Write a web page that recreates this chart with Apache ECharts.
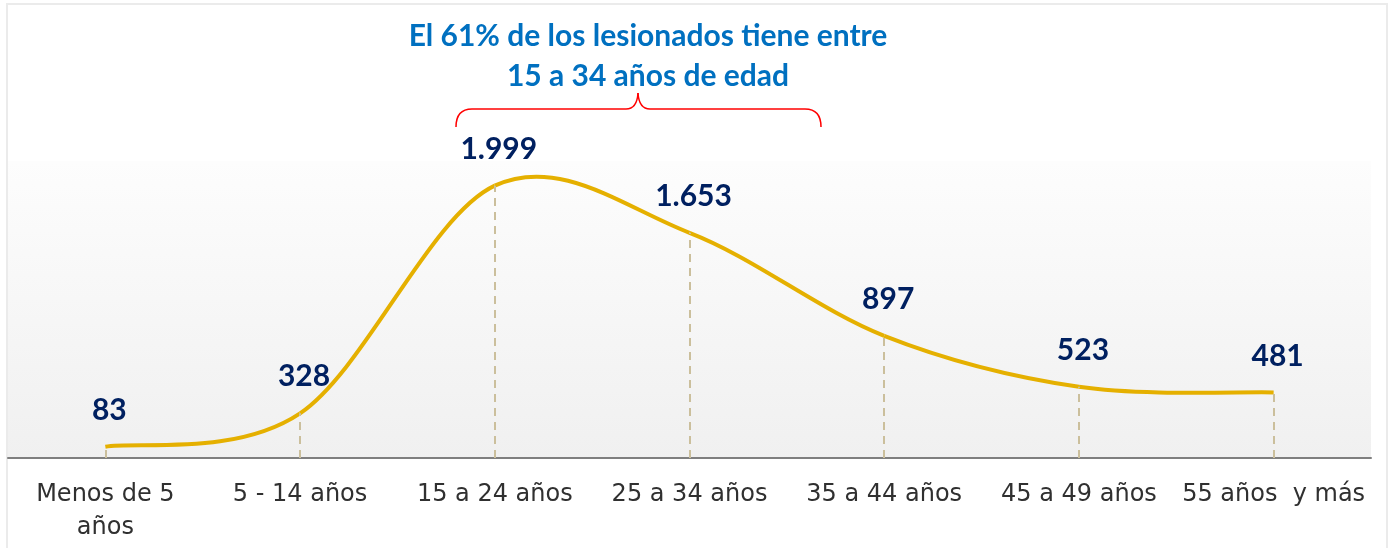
<!DOCTYPE html>
<html>
<head>
<meta charset="utf-8">
<script src="https://cdn.jsdelivr.net/npm/echarts@6/dist/echarts.min.js"></script>
<style>
html,body{margin:0;padding:0;background:#fff;}
#chart{width:1393px;height:548px;}
</style>
</head>
<body>
<div id="chart"></div>
<script>
const categories = ['Menos de 5\naños', '5 - 14 años', '15 a 24 años', '25 a 34 años', '35 a 44 años', '45 a 49 años', '55 años  y más'];
const injured = [83, 328, 1999, 1653, 897, 523, 481];
const titleLines = ['El 61% de los lesionados tiene entre', '15 a 34 años de edad'];

const chart = echarts.init(document.getElementById('chart'));
const fmt = v => String(v).replace(/\B(?=(\d{3})+(?!\d))/g, '.');
const red = {fill: 'none', stroke: '#ff0000', lineWidth: 1.5};
const gold = '#e5b000';

// Smooth (Catmull-Rom style) curve through the data points, mapped by the axes
function renderCurve(params, api) {
  if (params.dataIndexInside !== 0) return null;
  const pts = injured.map((v, i) => api.coord([i, v]));
  const n = pts.length;
  const children = [];
  for (let i = 0; i < n - 1; i++) {
    const p0 = pts[Math.max(i - 1, 0)], p1 = pts[i], p2 = pts[i + 1], p3 = pts[Math.min(i + 2, n - 1)];
    children.push({
      type: 'bezierCurve',
      shape: {
        x1: p1[0], y1: p1[1],
        cpx1: p1[0] + (p2[0] - p0[0]) / 6, cpy1: p1[1] + (p2[1] - p0[1]) / 6,
        cpx2: p2[0] - (p3[0] - p1[0]) / 6, cpy2: p2[1] - (p3[1] - p1[1]) / 6,
        x2: p2[0], y2: p2[1]
      },
      style: {fill: 'none', stroke: gold, lineWidth: 4}
    });
  }
  return {type: 'group', children: children};
}

chart.setOption({
  animation: false,
  backgroundColor: '#ffffff',
  grid: {
    left: 8, right: 22, top: 161, bottom: 90,
    show: true, borderWidth: 0,
    backgroundColor: {
      type: 'linear', x: 0, y: 0, x2: 0, y2: 1,
      colorStops: [{offset: 0, color: '#fdfdfd'}, {offset: 1, color: '#f0f0f0'}]
    }
  },
  xAxis: {
    type: 'category',
    data: categories,
    boundaryGap: true,
    axisLine: {lineStyle: {color: '#7f7f7f', width: 2}},
    axisTick: {show: false},
    axisLabel: {
      interval: 0, color: '#303030', fontFamily: 'DejaVu Sans', fontSize: 24,
      lineHeight: 33, margin: 20
    }
  },
  yAxis: {
    type: 'value', min: 0, max: 2180,
    show: false, splitLine: {show: false}
  },
  graphic: [
    {type: 'rect', shape: {x: 7, y: 4, width: 1380, height: 560}, style: {fill: 'none', stroke: '#ebebeb', lineWidth: 2}, z: 0, silent: true},
    {type: 'text', x: 648, y: 16, style: {text: titleLines.join('\n'), fill: '#0070c0', font: 'bold 30px Lato', lineHeight: 40, align: 'center', verticalAlign: 'top'}, z: 10},
    {type: 'bezierCurve', shape: {x1: 456, y1: 127, cpx1: 456, cpy1: 109, x2: 472, y2: 109}, style: red, z: 10},
    {type: 'line', shape: {x1: 472, y1: 109, x2: 626, y2: 109}, style: red, z: 10},
    {type: 'bezierCurve', shape: {x1: 626, y1: 109, cpx1: 637, cpy1: 109, x2: 638, y2: 93}, style: red, z: 10},
    {type: 'bezierCurve', shape: {x1: 638, y1: 93, cpx1: 639, cpy1: 109, x2: 650, y2: 109}, style: red, z: 10},
    {type: 'line', shape: {x1: 650, y1: 109, x2: 805, y2: 109}, style: red, z: 10},
    {type: 'bezierCurve', shape: {x1: 805, y1: 109, cpx1: 821, cpy1: 109, x2: 821, y2: 127}, style: red, z: 10}
  ],
  series: [{
    type: 'line',
    data: injured,
    symbol: 'circle',
    symbolSize: 1,
    itemStyle: {color: 'transparent'},
    lineStyle: {width: 0, opacity: 0},
    z: 3,
    label: {
      show: true, position: 'top', distance: 21, offset: [4, 0],
      color: '#002060', fontFamily: 'Lato', fontWeight: 'bold', fontSize: 30,
      formatter: p => fmt(p.value)
    },
    markLine: {
      silent: true, symbol: 'none',
      label: {show: false},
      lineStyle: {color: '#cbbf9c', type: [8, 6], width: 2},
      data: injured.map((v, i) => [{coord: [i, 0]}, {coord: [i, v]}])
    }
  }, {
    type: 'custom',
    data: injured.map((v, i) => [i, v]),
    renderItem: renderCurve,
    silent: true,
    z: 4
  }]
});
</script>
</body>
</html>
